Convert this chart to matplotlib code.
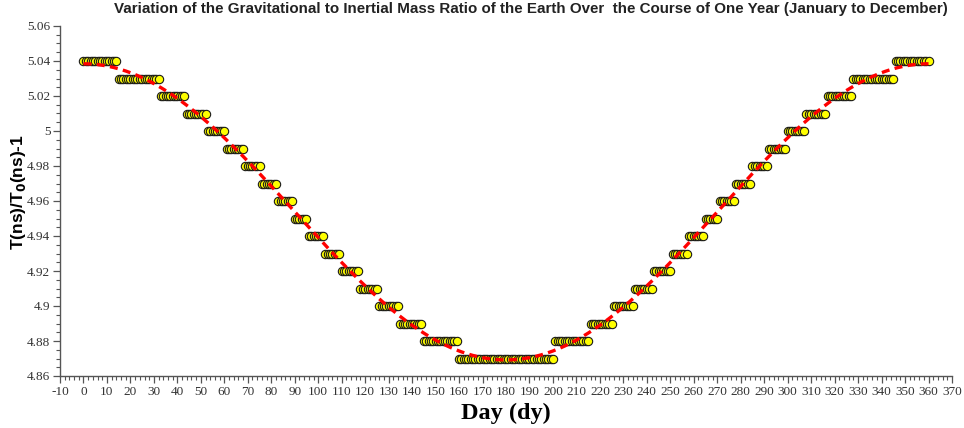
import numpy as np
import matplotlib
matplotlib.use("Agg")
import matplotlib.pyplot as plt
from matplotlib.ticker import MultipleLocator, FuncFormatter

# Daily ratio values, stored as runs: each level and the number of days it holds
levels = [5.04, 5.03, 5.02, 5.01, 5.00, 4.99, 4.98, 4.97, 4.96, 4.95, 4.94, 4.93,
          4.92, 4.91, 4.90, 4.89, 4.88, 4.87,
          4.88, 4.89, 4.90, 4.91, 4.92, 4.93, 4.94, 4.95, 4.96, 4.97, 4.98, 4.99,
          5.00, 5.01, 5.02, 5.03, 5.04]
run_days = [15, 18, 11, 9, 8, 8, 7, 7, 7, 6, 7, 7,
            8, 8, 9, 10, 15, 41,
            15, 10, 9, 8, 8, 7, 7, 6, 7, 7, 7, 8,
            8, 9, 11, 18, 15]

ratio = np.repeat(levels, run_days)
day = np.arange(len(ratio))

# Annual harmonic least-squares fit
w = 2 * np.pi / 360.0
A = np.column_stack([np.ones_like(day, dtype=float), np.cos(w * day), np.sin(w * day)])
coef, *_ = np.linalg.lstsq(A, ratio, rcond=None)
t_fit = np.linspace(day.min(), day.max(), 721)
y_fit = coef[0] + coef[1] * np.cos(w * t_fit) + coef[2] * np.sin(w * t_fit)

fig = plt.figure(figsize=(9.64, 4.28), dpi=100)
ax = fig.add_axes([60 / 964, 1 - 376 / 428, (952 - 60) / 964, (376 - 26) / 428])

ax.plot(day, ratio, linestyle="none", marker="o", markersize=6.0,
        markerfacecolor="#ffff00", markeredgecolor="#1a1a1a", markeredgewidth=0.8,
        zorder=2)
ax.plot(t_fit, y_fit, color="#ff0000", linestyle=(0, (2.4, 1.6)), linewidth=2.4,
        zorder=3)

ax.set_xlim(-10, 370)
ax.set_ylim(4.86, 5.06)
ax.xaxis.set_major_locator(MultipleLocator(10))
ax.xaxis.set_minor_locator(MultipleLocator(2))
ax.yaxis.set_major_locator(MultipleLocator(0.02))
ax.yaxis.set_minor_locator(MultipleLocator(0.005))
ax.yaxis.set_major_formatter(FuncFormatter(lambda v, p: f"{v:.2f}".rstrip("0").rstrip(".")))
ax.xaxis.set_major_formatter(FuncFormatter(lambda v, p: f"{v:.0f}"))

for s in ("top", "right"):
    ax.spines[s].set_visible(False)
for s in ("left", "bottom"):
    ax.spines[s].set_color("#555555")
    ax.spines[s].set_linewidth(1.0)

ax.tick_params(which="major", direction="out", length=5, width=0.9, color="#555555",
               labelsize=9.5, pad=2)
ax.tick_params(which="minor", direction="out", length=3, width=0.8, color="#555555")
for lab in ax.get_xticklabels() + ax.get_yticklabels():
    lab.set_fontfamily("Liberation Serif")
    lab.set_color("#333333")

ax.set_xlabel("Day (dy)", fontfamily="Liberation Serif", fontweight="bold",
              fontsize=17.5, labelpad=4)
fig.text(0.019, 1 - 192 / 428, r"T(ns)/T$_\mathbf{0}$(ns)-1", rotation=90, ha="center",
         va="center", fontfamily="Liberation Sans", fontweight="bold", fontsize=12.5)

fig.text(531 / 964, 1 - 9 / 428,
         "Variation of the Gravitational to Inertial Mass Ratio of the Earth Over  the Course of One Year (January to December)",
         ha="center", va="center", fontfamily="Liberation Sans",
         fontweight="bold", fontsize=10.9, color="#222222")

fig.savefig("out.png", dpi=100)
